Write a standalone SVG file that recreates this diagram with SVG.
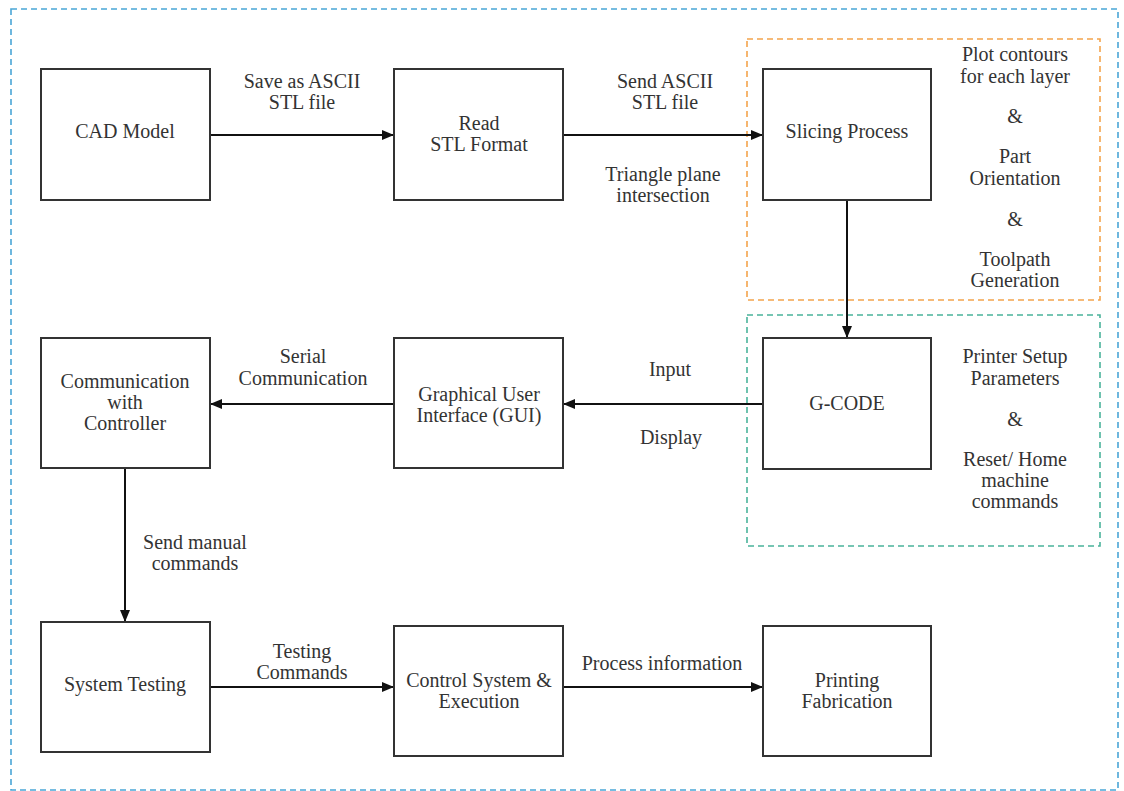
<svg xmlns="http://www.w3.org/2000/svg" width="1124" height="791" viewBox="0 0 1124 791">
  <style>
    .box { fill: #ffffff; stroke: #333333; stroke-width: 2; }
    .lbl { font-family: 'Liberation Serif', 'Times New Roman', Times, serif; font-size: 20px; fill: #333333; text-anchor: middle; }
    .edge { stroke: #111111; stroke-width: 2; fill: none; marker-end: url(#arrow); }
    .frame { fill: none; stroke-width: 1.6; stroke-dasharray: 6 4; }
  </style>
  <defs>
    <marker id="arrow" viewBox="0 0 12 10" refX="12" refY="5" markerWidth="12" markerHeight="10" markerUnits="userSpaceOnUse" orient="auto">
      <path d="M0,0 L12,5 L0,10 Z" fill="#111111"/>
    </marker>
  </defs>

  <rect width="1124" height="791" fill="#ffffff"/>

  <!-- dashed frames -->
  <g id="frames">
    <rect class="frame" x="11" y="9" width="1107" height="781" stroke="#4aa6d6"/>
    <rect class="frame" x="747" y="39" width="353" height="261" stroke="#f4a44c"/>
    <rect class="frame" x="747" y="315" width="353" height="231" stroke="#4ab39b"/>
  </g>

  <!-- connectors -->
  <g id="connectors">
    <line class="edge" x1="210" y1="135" x2="394" y2="135"/>
    <line class="edge" x1="563" y1="135" x2="763" y2="135"/>
    <line class="edge" x1="847" y1="200" x2="847" y2="338"/>
    <line class="edge" x1="763" y1="404" x2="563" y2="404"/>
    <line class="edge" x1="394" y1="404" x2="210" y2="404"/>
    <line class="edge" x1="125" y1="468" x2="125" y2="622"/>
    <line class="edge" x1="210" y1="687" x2="394" y2="687"/>
    <line class="edge" x1="563" y1="687" x2="763" y2="687"/>
  </g>

  <!-- connector labels -->
  <g id="edge-labels" font-family="Liberation Serif, serif">
    <text class="lbl" x="302" y="88">Save as ASCII</text>
    <text class="lbl" x="302" y="109">STL file</text>
    <text class="lbl" x="665" y="88">Send ASCII</text>
    <text class="lbl" x="665" y="109">STL file</text>
    <text class="lbl" x="663" y="181">Triangle plane</text>
    <text class="lbl" x="663" y="202">intersection</text>
    <text class="lbl" x="670" y="376">Input</text>
    <text class="lbl" x="671" y="444">Display</text>
    <text class="lbl" x="303" y="363">Serial</text>
    <text class="lbl" x="303" y="385">Communication</text>
    <text class="lbl" x="195" y="549">Send manual</text>
    <text class="lbl" x="195" y="570">commands</text>
    <text class="lbl" x="302" y="658">Testing</text>
    <text class="lbl" x="302" y="679">Commands</text>
    <text class="lbl" x="662" y="670">Process information</text>
  </g>

  <!-- side notes -->
  <g id="slicing-notes">
    <text class="lbl" x="1015" y="61">Plot contours</text>
    <text class="lbl" x="1015" y="83">for each layer</text>
    <text class="lbl" x="1015" y="123">&amp;</text>
    <text class="lbl" x="1015" y="163">Part</text>
    <text class="lbl" x="1015" y="185">Orientation</text>
    <text class="lbl" x="1015" y="226">&amp;</text>
    <text class="lbl" x="1015" y="266">Toolpath</text>
    <text class="lbl" x="1015" y="287">Generation</text>
  </g>
  <g id="gcode-notes">
    <text class="lbl" x="1015" y="363">Printer Setup</text>
    <text class="lbl" x="1015" y="385">Parameters</text>
    <text class="lbl" x="1015" y="426">&amp;</text>
    <text class="lbl" x="1015" y="466">Reset/ Home</text>
    <text class="lbl" x="1015" y="487">machine</text>
    <text class="lbl" x="1015" y="508">commands</text>
  </g>

  <!-- nodes -->
  <g id="cad-model">
    <rect class="box" x="41" y="69" width="169" height="131"/>
    <text class="lbl" x="125" y="138">CAD Model</text>
  </g>
  <g id="read-stl">
    <rect class="box" x="394" y="69" width="169" height="131"/>
    <text class="lbl" x="479" y="130">Read</text>
    <text class="lbl" x="479" y="151">STL Format</text>
  </g>
  <g id="slicing-process">
    <rect class="box" x="763" y="69" width="168" height="131"/>
    <text class="lbl" x="847" y="138">Slicing Process</text>
  </g>
  <g id="g-code">
    <rect class="box" x="763" y="338" width="168" height="131"/>
    <text class="lbl" x="847" y="410">G-CODE</text>
  </g>
  <g id="gui">
    <rect class="box" x="394" y="338" width="169" height="130"/>
    <text class="lbl" x="479" y="401">Graphical User</text>
    <text class="lbl" x="479" y="422">Interface (GUI)</text>
  </g>
  <g id="comm-controller">
    <rect class="box" x="41" y="338" width="169" height="130"/>
    <text class="lbl" x="125" y="388">Communication</text>
    <text class="lbl" x="125" y="409">with</text>
    <text class="lbl" x="125" y="430">Controller</text>
  </g>
  <g id="system-testing">
    <rect class="box" x="41" y="622" width="169" height="130"/>
    <text class="lbl" x="125" y="691">System Testing</text>
  </g>
  <g id="control-system">
    <rect class="box" x="394" y="626" width="169" height="130"/>
    <text class="lbl" x="479" y="687">Control System &amp;</text>
    <text class="lbl" x="479" y="708">Execution</text>
  </g>
  <g id="printing-fabrication">
    <rect class="box" x="763" y="626" width="168" height="130"/>
    <text class="lbl" x="847" y="687">Printing</text>
    <text class="lbl" x="847" y="708">Fabrication</text>
  </g>
</svg>
